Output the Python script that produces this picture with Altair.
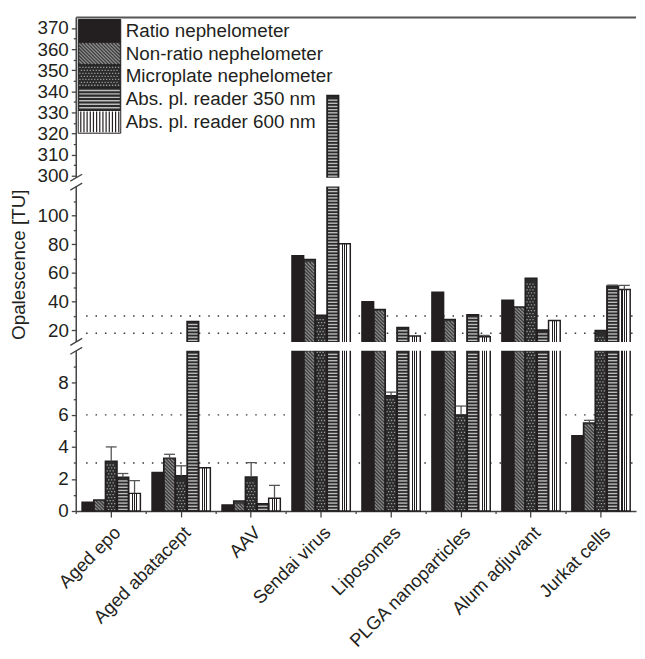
import math
import altair as alt
import pandas as pd

# ---------------- data ----------------
categories = ["Aged epo", "Aged abatacept", "AAV", "Sendai virus", "Liposomes",
              "PLGA nanoparticles", "Alum adjuvant", "Jurkat cells"]
series = ["Ratio nephelometer", "Non-ratio nephelometer", "Microplate nephelometer",
          "Abs. pl. reader 350 nm", "Abs. pl. reader 600 nm"]

ratio_neph = [0.55, 2.4, 0.38, 72.0, 40.0, 46.5, 41.0, 4.7]
nonratio_neph = [0.68, 3.3, 0.62, 69.3, 34.5, 27.6, 36.3, 5.5]
microplate_neph = [3.1, 2.2, 2.12, 30.6, 7.2, 6.0, 56.2, 20.0]
abs_350 = [2.1, 26.2, 0.45, 338.0, 22.0, 30.8, 20.3, 50.9]
abs_600 = [1.1, 2.7, 0.8, 80.2, 16.1, 15.6, 26.8, 48.5]

ratio_sd = [0, 0, 0, 0, 0, 0, 0, 0]
nonratio_sd = [0, 0.24, 0, 0, 0, 0, 0, 0.16]
microplate_sd = [0.9, 0.62, 0.9, 0, 0.22, 0.55, 0, 0]
abs_350_sd = [0.24, 0, 0, 0, 0, 0, 0, 0.6]
abs_600_sd = [0.8, 0, 0.8, 0, 0, 0.9, 0, 2.8]

reference_levels = [3, 6, 18, 30]

major_ticks = [0, 2, 4, 6, 8, 20, 40, 60, 80, 100] + list(range(300, 371, 10))
minor_ticks = [1, 3, 5, 7, 9, 30, 50, 70, 90, 110] + list(range(305, 366, 10))

# axis break segments (data units)
seg_lo = [0, 12, 299]
seg_hi = [10, 120, 375]
break_values = [10, 12, 120, 299]

values_by_series = [ratio_neph, nonratio_neph, microplate_neph, abs_350, abs_600]
sd_by_series = [ratio_sd, nonratio_sd, microplate_sd, abs_350_sd, abs_600_sd]

rows = []
for s, vals, sds in zip(series, values_by_series, sd_by_series):
    for c, v, e in zip(categories, vals, sds):
        rows.append({"cat": c, "series": s, "value": v, "sd": e})
df = pd.DataFrame(rows)

# ---------------- layout / style ----------------
W, H = 566, 499
y_domain = [0, 10, 12, 120, 299, 375]
y_range = [H, 337, 328, 171, 162, 0]
slopes = [(y_range[2 * i] - y_range[2 * i + 1]) / (seg_hi[i] - seg_lo[i]) for i in range(3)]

FONT = "Liberation Sans"
FS = 19
XFS = 18.5
INK = "#231f20"
AX = "#444444"

bw = W / len(categories) / (len(series) + 1)
pw = bw - 2.2


def hlines(w, h, step):
    n = max(1, int(round(h / step)))
    ys = [-h / 2 + step * (k + 0.5) for k in range(n)]
    return "".join(f"M{-w/2:.2f},{y:.2f}H{w/2:.2f}" for y in ys)


def vlines(w, h, step):
    n = max(1, int(round(w / step)))
    xs = [-w / 2 + step * (k + 0.5) for k in range(n)]
    return "".join(f"M{x:.2f},{-h/2:.2f}V{h/2:.2f}" for x in xs)


def diag(w, h, s):
    parts = []
    kmin = math.floor((-w / 2 - h / 2) / s) - 1
    kmax = math.ceil((w / 2 + h / 2) / s) + 1
    for k in range(kmin, kmax + 1):
        c = k * s
        y1 = max(-h / 2, -w / 2 - c)
        y2 = min(h / 2, w / 2 - c)
        if y2 - y1 > 0.05:
            parts.append(f"M{y1 + c:.2f},{y1:.2f}L{y2 + c:.2f},{y2:.2f}")
    return "".join(parts)


def dots(w, h, sx, sy, d):
    parts = []
    nrows = max(1, int(round(h / sy)))
    for r in range(nrows):
        y = -h / 2 + sy * (r + 0.5)
        x = -w / 2 + (sx / 4 if r % 2 == 0 else 3 * sx / 4)
        while x + d / 2 <= w / 2 + 0.01:
            parts.append(f"M{x - d/2:.2f},{y - d/2:.2f}h{d:.2f}v{d:.2f}h{-d:.2f}Z")
            x += sx
    return "".join(parts)


def tile_exprs(h_px):
    out = {}
    for i in range(3):
        hs = h_px / slopes[i]
        out[f"t{i}"] = (f"sequence({seg_lo[i] + hs/2:.5f}, "
                        f"min(datum.value, {seg_hi[i]}) - {hs/2:.5f} + 0.000001, {hs:.5f})")
    return out


major_js = "[" + ",".join(str(v) for v in major_ticks) + "]"

yscale = alt.Scale(domain=y_domain, range=y_range, nice=False, zero=False)
yaxis = alt.Axis(
    values=major_ticks + minor_ticks,
    labelExpr=f"indexof({major_js}, datum.value) >= 0 ? datum.label : ''",
    tickSize={"condition": {"test": f"indexof({major_js}, datum.value) >= 0", "value": 5}, "value": 3},
    domain=False, grid=False,
    labelFont=FONT, labelFontSize=FS, labelColor=INK, labelPadding=3,
    tickColor=AX, tickWidth=1.3,
    titleFont=FONT, titleFontSize=FS, titleFontWeight="normal", titleColor=INK, titlePadding=9,
)
xscale = alt.Scale(domain=categories, paddingInner=0, paddingOuter=0)
xaxis = alt.Axis(
    labelAngle=-45, labelAlign="right", labelBaseline="top",
    labelFont=FONT, labelFontSize=XFS, labelColor=INK, labelPadding=6, labelOverlap=False,
    tickSize=6, tickColor=AX, tickWidth=1.3, domainColor=AX, domainWidth=1.5, grid=False,
)
xoscale = alt.Scale(domain=series, paddingInner=0, paddingOuter=0.5)
fill_scale = alt.Scale(domain=series, range=[INK, "#3c3c3c", "#2b2b2b", "#2b2b2b", "#ffffff"])


def X(**kw):
    return alt.X("cat:N", scale=xscale, axis=xaxis, title=None, **kw)


XO = alt.XOffset("series:N", scale=xoscale)


def Y(field):
    return alt.Y(f"{field}:Q", scale=yscale, axis=yaxis, title="Opalescence [TU]")


base = alt.Chart(df)

ref = alt.Chart(pd.DataFrame({"level": reference_levels})).mark_rule(
    strokeDash=[1.5, 8], color="#333333", strokeWidth=1.5
).encode(y=Y("level"), x=alt.value(10), x2=alt.value(W))

bars = base.transform_filter(alt.datum.series != series[4]).mark_bar().encode(
    x=X(), xOffset=XO, y=Y("value"),
    fill=alt.Fill("series:N", scale=fill_scale, legend=None),
)

stops = [(0.0, "#ffffff")]
for c in [0.3, 0.5, 0.7]:
    stops += [(c - 0.045, "#ffffff"), (c - 0.045, INK), (c + 0.045, INK), (c + 0.045, "#ffffff")]
stops += [(1.0, "#ffffff")]
grad600 = alt.LinearGradient(
    gradient="linear", x1=0, y1=0, x2=1, y2=0,
    stops=[alt.GradientStop(offset=o, color=c) for o, c in stops],
)
bars600 = base.transform_filter(alt.datum.series == series[4]).mark_bar(fill=grad600).encode(
    x=X(), xOffset=XO, y=Y("value")
)


def tiles(sname, h_px):
    return (base.transform_filter(alt.datum.series == sname)
            .transform_calculate(**tile_exprs(h_px))
            .transform_fold(["t0", "t1", "t2"], as_=["seg", "tile"])
            .transform_flatten(["tile"]))


diag_tiles = tiles(series[1], 3.5).mark_point(
    shape=diag(pw, 3.5, 3.5), size=4, filled=False, stroke="#8c8c8c", strokeWidth=1.2, opacity=1
).encode(x=X(), xOffset=XO, y=Y("tile"))

dot_tiles = tiles(series[2], 6).mark_point(
    shape=dots(pw, 6, 3, 3, 1.3), size=4, filled=True, fill="#9a9a9a", strokeWidth=0, opacity=1
).encode(x=X(), xOffset=XO, y=Y("tile"))

hline_tiles = tiles(series[3], 3.2).mark_point(
    shape=hlines(pw, 3.2, 3.2), size=4, filled=False, stroke="#bdbdbd", strokeWidth=1.4, opacity=1
).encode(x=X(), xOffset=XO, y=Y("tile"))

outlines = base.mark_bar(fillOpacity=0, stroke=INK, strokeWidth=1.5).encode(
    x=X(), xOffset=XO, y=Y("value")
)

err = base.transform_filter("datum.sd > 0").transform_calculate(top="datum.value + datum.sd")
err_rule = err.mark_rule(color="#555555", strokeWidth=1.3).encode(
    x=X(), xOffset=XO, y=Y("value"), y2="top:Q"
)
err_cap = err.mark_tick(color="#555555", thickness=1.3, size=11, orient="horizontal", opacity=1).encode(
    x=X(), xOffset=XO, y=Y("top")
)

gaps = alt.Chart(pd.DataFrame({"lo": [seg_hi[0], seg_hi[1]], "hi": [seg_lo[1], seg_lo[2]]})).mark_rect(
    fill="white"
).encode(y=Y("lo"), y2="hi:Q", x=alt.value(0), x2=alt.value(W + 1))

axis_line = alt.Chart(pd.DataFrame({"lo": seg_lo, "hi": seg_hi})).mark_rule(
    color=AX, strokeWidth=1.5
).encode(x=alt.value(0), y=Y("lo"), y2="hi:Q")

slashes = alt.Chart(pd.DataFrame({"b": break_values})).mark_rule(
    color=AX, strokeWidth=1.3, yOffset=3.5, y2Offset=-3.5
).encode(x=alt.value(-6), x2=alt.value(6), y=Y("b"), y2="b:Q")

top_line = alt.Chart(pd.DataFrame({"t": [seg_hi[2]]})).mark_rule(
    color="#555555", strokeWidth=2
).encode(y=Y("t"), x=alt.value(0), x2=alt.value(W))

xminor = alt.Chart(pd.DataFrame({"cat": categories})).mark_rule(color=AX, strokeWidth=1.3).encode(
    x=X(bandPosition=0), y=alt.value(H), y2=alt.value(H + 3)
)

main = alt.layer(ref, bars, bars600, diag_tiles, dot_tiles, hline_tiles, outlines,
                 err_rule, err_cap, gaps, axis_line, slashes, top_line, xminor)

# ---------------- legend (inside plot, top-left) ----------------
leg = alt.Chart(pd.DataFrame({"series": series}))
ly = alt.Y("series:N", scale=alt.Scale(domain=series, range=[2, 117], paddingInner=0, paddingOuter=0),
           axis=None)
SW_W, SW_H = 41, 21

leg_rect = leg.mark_rect(stroke=INK, strokeWidth=1).encode(
    x=alt.value(2), x2=alt.value(45), y=ly, fill=alt.Fill("series:N", scale=fill_scale, legend=None)
)
leg_diag = leg.transform_filter(alt.datum.series == series[1]).mark_point(
    shape=diag(SW_W, SW_H, 3.5), size=4, filled=False, stroke="#8c8c8c", strokeWidth=1.2, opacity=1
).encode(x=alt.value(23.5), y=ly)
leg_dots = leg.transform_filter(alt.datum.series == series[2]).mark_point(
    shape=dots(SW_W, SW_H, 3, 3, 1.3), size=4, filled=True, fill="#9a9a9a", strokeWidth=0, opacity=1
).encode(x=alt.value(23.5), y=ly)
leg_h = leg.transform_filter(alt.datum.series == series[3]).mark_point(
    shape=hlines(SW_W, SW_H, 3.5), size=4, filled=False, stroke="#bdbdbd", strokeWidth=1.4, opacity=1
).encode(x=alt.value(23.5), y=ly)
leg_v = leg.transform_filter(alt.datum.series == series[4]).mark_point(
    shape=vlines(SW_W, SW_H, 3.2), size=4, filled=False, stroke=INK, strokeWidth=1.2, opacity=1
).encode(x=alt.value(23.5), y=ly)
leg_text = leg.mark_text(align="left", baseline="middle", font=FONT, fontSize=FS, color=INK).encode(
    x=alt.value(50), y=ly, text="series:N"
)

legend = alt.layer(leg_rect, leg_diag, leg_dots, leg_h, leg_v, leg_text)

chart = (
    alt.layer(main, legend)
    .resolve_scale(y="independent")
    .properties(width=W, height=H, padding={"left": 1, "top": 5, "right": 0, "bottom": 0})
    .configure_view(stroke=None)
)

chart.save("out.html", embed_options={"renderer": "svg", "actions": False})
